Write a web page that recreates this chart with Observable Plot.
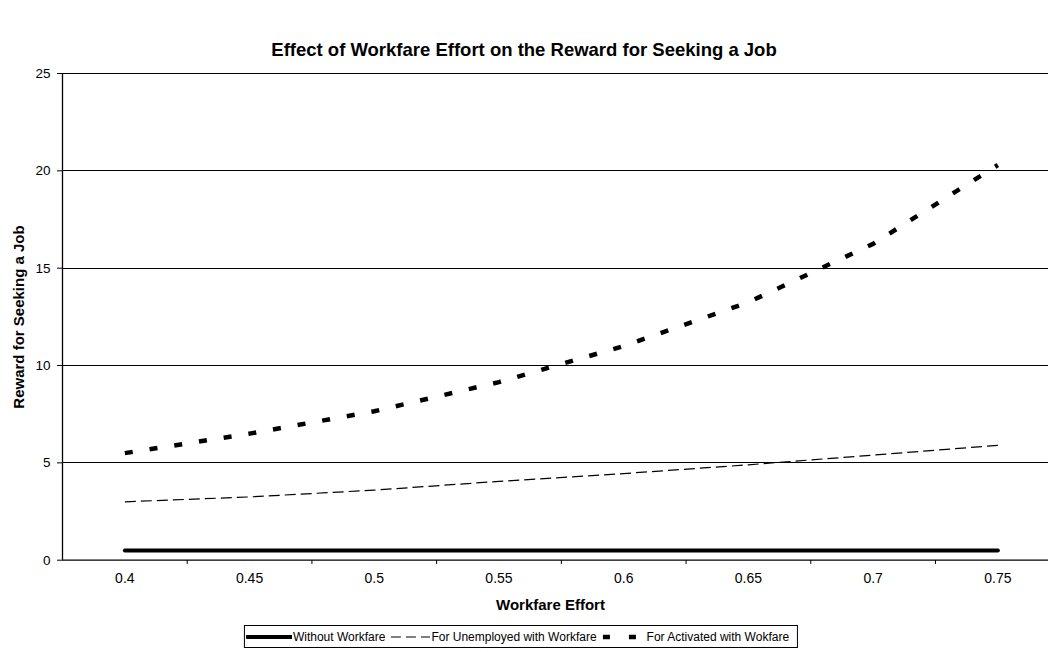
<!DOCTYPE html>
<html>
<head>
<meta charset="utf-8">
<script src="https://cdn.jsdelivr.net/npm/d3@7"></script>
<script src="https://cdn.jsdelivr.net/npm/@observablehq/plot@0.6"></script>
<style>
  body { margin: 0; background: #fff; font-family: "Liberation Sans", Arial, sans-serif; color: #000; }
  #page { position: relative; width: 1048px; height: 652px; overflow: hidden; }
  #title { height: 60px; position: relative; }
  #title span { position: absolute; left: 0; right: 0; top: 41px; line-height: 18px; text-align: center; font-weight: bold; font-size: 18.5px; }
  #chart svg { display: block; }
  #legend { position: absolute; left: 521px; transform: translateX(-50%); top: 625px; height: 21px; border: 1px solid #000; display: flex; align-items: center; font-size: 12px; padding: 0 3px 0 1px; white-space: nowrap; }
  #legend .item { display: flex; align-items: center; }
  #legend svg { display: block; }
</style>
</head>
<body>
<div id="page">
  <div id="title"><span></span></div>
  <div id="chart"></div>
  <div id="legend"></div>
</div>
<script>
// ---- data ----
const chartTitle = "Effect of Workfare Effort on the Reward for Seeking a Job";
const xTitle = "Workfare Effort";
const yTitle = "Reward for Seeking a Job";
const efforts = [0.4, 0.45, 0.5, 0.55, 0.6, 0.65, 0.7, 0.75];
const xTickLabels = ["0.4", "0.45", "0.5", "0.55", "0.6", "0.65", "0.7", "0.75"];
const withoutWorkfare = [0.5, 0.5, 0.5, 0.5, 0.5, 0.5, 0.5, 0.5];
const unemployedWithWorkfare = [3.0, 3.25, 3.6, 4.05, 4.45, 4.9, 5.4, 5.9];
const activatedWithWorkfare = [5.5, 6.5, 7.65, 9.15, 11.0, 13.25, 16.25, 20.3];
const seriesNames = ["Without Workfare", "For Unemployed with Workfare", "For Activated with Wokfare"];
const yTicks = [0, 5, 10, 15, 20, 25];

// ---- styles ----
const seriesStyles = [
  {strokeWidth: 4, dash: null, cap: "round"},
  {strokeWidth: 1.2, dash: "11,5", cap: "butt"},
  {strokeWidth: 4.5, dash: "8,17", cap: "butt"}
];
const legendDash = [null, "10,5", "7,19"];
const sampleWidths = [46, 40, 40];
const seriesValues = [withoutWorkfare, unemployedWithWorkfare, activatedWithWorkfare];

const rows = [];
seriesNames.forEach((name, s) => efforts.forEach((e, i) => rows.push({series: name, effort: e, value: seriesValues[s][i]})));

const step = efforts[1] - efforts[0];
const boundaries = efforts.map(e => +(e + step / 2).toFixed(3)).slice(0, -1);
const xDomain = [efforts[0] - step / 2, efforts[efforts.length - 1] + step / 2];

document.querySelector("#title span").textContent = chartTitle;

const font = '"Liberation Sans", Arial, sans-serif';
const chart = Plot.plot({
  width: 1048,
  height: 555,
  marginTop: 13,
  marginLeft: 62,
  marginRight: 0,
  marginBottom: 55,
  style: {fontFamily: font, fontSize: "14px", color: "#000", background: "#fff", overflow: "visible"},
  x: {type: "linear", domain: xDomain, range: [62, 1059.7]},
  y: {domain: [0, 25], range: [499.7, 13]},
  marks: [
    Plot.ruleY(yTicks.slice(1), {stroke: "#000", strokeWidth: 1, shapeRendering: "crispEdges"}),
    Plot.ruleY([0], {stroke: "#000", strokeWidth: 1.3}),
    Plot.ruleX([xDomain[0]], {y1: 0, y2: 25, stroke: "#000", strokeWidth: 1.3}),
    Plot.axisY(yTicks, {tickSize: 5, tickPadding: 7, label: null, fontSize: 13.5, stroke: "#000"}),
    Plot.axisX(boundaries, {tickSize: 4, tickFormat: () => "", label: null, stroke: "#000"}),
    Plot.axisX(efforts, {tickSize: 0, tickPadding: 13, tickFormat: (d, i) => xTickLabels[i], label: null, fontSize: 14}),
    ...seriesNames.map((name, s) => Plot.lineY(rows.filter(r => r.series === name), {
      x: "effort", y: "value", stroke: "#000",
      strokeWidth: seriesStyles[s].strokeWidth,
      strokeDasharray: seriesStyles[s].dash,
      strokeLinecap: seriesStyles[s].cap,
      strokeLinejoin: "round"
    })),
    Plot.text([yTitle], {frameAnchor: "left", textAnchor: "middle", lineAnchor: "middle", rotate: -90, dx: -43.5, fontWeight: "bold", fontSize: 15}),
    Plot.text([xTitle], {frameAnchor: "bottom", textAnchor: "middle", lineAnchor: "middle", dy: 45, dx: -5, fontWeight: "bold", fontSize: 15})
  ]
});
document.getElementById("chart").appendChild(chart);

// ---- legend ----
const legend = document.getElementById("legend");
seriesNames.forEach((name, s) => {
  const item = document.createElement("div");
  item.className = "item";
  const st = seriesStyles[s];
  const w = sampleWidths[s];
  const dash = legendDash[s] ? `stroke-dasharray="${legendDash[s]}"` : "";
  item.innerHTML = `<svg width="${w}" height="12"><line x1="1" x2="${w}" y1="6" y2="6" stroke="#000" stroke-width="${st.strokeWidth}" ${dash} stroke-linecap="${s === 0 ? "round" : "butt"}"/></svg><span style="margin-left:${s === 2 ? 5 : 1}px;margin-right:5px">${name}</span>`;
  legend.appendChild(item);
});
</script>
</body>
</html>
